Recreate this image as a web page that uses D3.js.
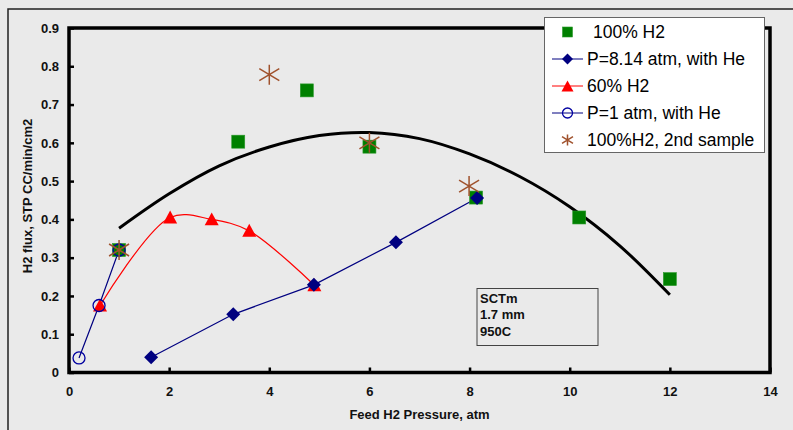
<!DOCTYPE html>
<html><head><meta charset="utf-8">
<script src="https://cdn.jsdelivr.net/npm/d3@7"></script>
<style>body{margin:0;background:#EAEAEA;}svg{display:block;font-family:"Liberation Sans",Arial,sans-serif;}</style>
</head><body><svg id="c" width="793" height="430"></svg>
<script>
// ---- data ----
const xTicks = [0, 2, 4, 6, 8, 10, 12, 14];
const yTicks = [0, 0.1, 0.2, 0.3, 0.4, 0.5, 0.6, 0.7, 0.8, 0.9];
const h2_100_x = [1.0, 3.38, 4.75, 6.0, 8.13, 10.19, 12.0];
const h2_100_y = [0.32, 0.603, 0.737, 0.59, 0.457, 0.405, 0.244];
const he814_x = [1.64, 3.28, 4.89, 6.53, 8.15];
const he814_y = [0.04, 0.152, 0.229, 0.34, 0.456];
const h2_60_x = [0.62, 2.02, 2.85, 3.6, 4.9];
const h2_60_y = [0.175, 0.405, 0.40, 0.37, 0.228];
const he1_x = [0.2, 0.6, 1.0];
const he1_y = [0.038, 0.175, 0.32];
const h2b_x = [1.0, 4.0, 6.0, 7.99];
const h2b_y = [0.32, 0.778, 0.60, 0.487];
const fit_x = [1, 2, 3, 4, 5, 6, 7, 8, 9, 10, 11, 12];
const fit_y = [0.377, 0.467, 0.54, 0.589, 0.619, 0.627, 0.611, 0.571, 0.512, 0.433, 0.331, 0.203];
const legendLabels = ["100% H2", "P=8.14 atm, with He", "60% H2", "P=1 atm, with He", "100%H2, 2nd sample"];
const noteLines = ["SCTm", "1.7 mm", "950C"];

// ---- drawing ----
const svg = d3.select("#c");
const L = 69, R = 770, T = 28, B = 372.5;
const x = d3.scaleLinear().domain([0, 14]).range([L, R]);
const y = d3.scaleLinear().domain([0, 0.9]).range([B, T]);
const zip = (a, b) => a.map((v, i) => [v, b[i]]);

// outer frame
svg.append("rect").attr("x", 8).attr("y", 9).attr("width", 800).attr("height", 440)
  .attr("fill", "#EAEAEA").attr("stroke", "#222").attr("stroke-width", 1.5);

// plot frame
svg.append("rect").attr("x", L).attr("y", T).attr("width", R - L).attr("height", B - T)
  .attr("fill", "#EAEAEA").attr("stroke", "#000").attr("stroke-width", 3.5);

// axes
const gx = svg.append("g").attr("transform", `translate(0,${B})`)
  .call(d3.axisBottom(x).tickValues(xTicks).tickSize(-5).tickPadding(14).tickFormat(d3.format("d")));
const gy = svg.append("g").attr("transform", `translate(${L},0)`)
  .call(d3.axisLeft(y).tickValues(yTicks).tickSize(-5).tickPadding(10).tickFormat(d => d === 0 ? "0" : d3.format(".1f")(d)));
[gx, gy].forEach(g => {
  g.select(".domain").remove();
  g.selectAll(".tick line").attr("stroke", "#000").attr("stroke-width", 2.5);
  g.selectAll(".tick text").attr("font-size", 13).attr("font-weight", "bold").attr("fill", "#111")
    .attr("font-family", "'Liberation Sans', Arial, sans-serif");
});
gx.selectAll(".tick text").attr("dy", "0.71em");

// axis titles
svg.append("text").attr("x", (L + R) / 2).attr("y", 419).attr("text-anchor", "middle")
  .attr("font-size", 13).attr("font-weight", "bold").attr("fill", "#111").text("Feed H2 Pressure, atm");
svg.append("text").attr("transform", "translate(32,196) rotate(-90)").attr("text-anchor", "middle")
  .attr("font-size", 13).attr("font-weight", "bold").attr("fill", "#111").text("H2 flux, STP CC/min/cm2");

// fit curve
const line = d3.line().x(d => x(d[0])).y(d => y(d[1]));
svg.append("path").datum(zip(fit_x, fit_y)).attr("d", line.curve(d3.curveCatmullRom))
  .attr("fill", "none").attr("stroke", "#000").attr("stroke-width", 3);

// series lines
svg.append("path").datum(zip(he1_x, he1_y)).attr("d", d3.line().x(d => x(d[0])).y(d => y(d[1])))
  .attr("fill", "none").attr("stroke", "#000080").attr("stroke-width", 1.2);
svg.append("path").datum(zip(h2_60_x, h2_60_y)).attr("d", d3.line().x(d => x(d[0])).y(d => y(d[1])).curve(d3.curveCatmullRom))
  .attr("fill", "none").attr("stroke", "#FF0000").attr("stroke-width", 1.2);
svg.append("path").datum(zip(he814_x, he814_y)).attr("d", d3.line().x(d => x(d[0])).y(d => y(d[1])))
  .attr("fill", "none").attr("stroke", "#000080").attr("stroke-width", 1.2);

// marker helpers
function square(g, cx, cy, s) {
  g.append("rect").attr("x", cx - s / 2).attr("y", cy - s / 2).attr("width", s).attr("height", s)
    .attr("fill", "#008000").attr("stroke", "#2a9a2a").attr("stroke-width", 0.6);
}
function diamond(g, cx, cy, s) {
  const h = s / 2;
  g.append("path").attr("d", `M${cx},${cy - h}L${cx + h},${cy}L${cx},${cy + h}L${cx - h},${cy}Z`).attr("fill", "#000080");
}
function triangle(g, cx, cy, s) {
  const h = s / 2;
  g.append("path").attr("d", `M${cx},${cy - h}L${cx + h},${cy + h * 0.85}L${cx - h},${cy + h * 0.85}Z`).attr("fill", "#FF0000");
}
function circle(g, cx, cy, r) {
  g.append("circle").attr("cx", cx).attr("cy", cy).attr("r", r).attr("fill", "none")
    .attr("stroke", "#0000A0").attr("stroke-width", 1.3);
}
function star(g, cx, cy, s) {
  const h = s / 2;
  g.append("path").attr("d", `M${cx},${cy - h}V${cy + h}M${cx - h},${cy - h * 0.6}L${cx + h},${cy + h * 0.6}M${cx - h},${cy + h * 0.6}L${cx + h},${cy - h * 0.6}`)
    .attr("stroke", "#A0522D").attr("stroke-width", 1.5).attr("fill", "none");
}

const m = svg.append("g");
zip(h2_100_x, h2_100_y).forEach(d => square(m, x(d[0]), y(d[1]), 13));
zip(h2_60_x, h2_60_y).forEach(d => triangle(m, x(d[0]), y(d[1]), 14));
zip(he1_x, he1_y).forEach(d => circle(m, x(d[0]), y(d[1]), 6));
zip(he814_x, he814_y).forEach(d => diamond(m, x(d[0]), y(d[1]), 14));
zip(h2b_x, h2b_y).forEach(d => star(m, x(d[0]), y(d[1]), 20));

// note box
svg.append("rect").attr("x", 477).attr("y", 288.5).attr("width", 121).attr("height", 57)
  .attr("fill", "none").attr("stroke", "#444").attr("stroke-width", 1);
svg.append("g").selectAll("text").data(noteLines).join("text")
  .attr("x", 480).attr("y", (d, i) => 302.5 + i * 16.5).attr("font-size", 13).attr("font-weight", "bold")
  .attr("fill", "#111").text(d => d);

// legend
const lg = svg.append("g");
lg.append("rect").attr("x", 544.5).attr("y", 17.5).attr("width", 220).attr("height", 135)
  .attr("fill", "#fff").attr("stroke", "#666").attr("stroke-width", 1);
const ly = [32, 59, 86, 113, 140];
const lx0 = 552, lx1 = 583, lxm = 567.5;
// 100% H2
square(lg, lxm, ly[0], 10);
// P=8.14
lg.append("line").attr("x1", lx0).attr("x2", lx1).attr("y1", ly[1]).attr("y2", ly[1]).attr("stroke", "#000080").attr("stroke-width", 1);
diamond(lg, lxm, ly[1], 11);
// 60%
lg.append("line").attr("x1", lx0).attr("x2", lx1).attr("y1", ly[2]).attr("y2", ly[2]).attr("stroke", "#FF0000").attr("stroke-width", 1);
triangle(lg, lxm, ly[2] + 0.5, 12);
// P=1
lg.append("line").attr("x1", lx0).attr("x2", lx1).attr("y1", ly[3]).attr("y2", ly[3]).attr("stroke", "#000080").attr("stroke-width", 1);
circle(lg, lxm, ly[3], 5);
// 2nd sample
star(lg, lxm, ly[4], 11);
lg.selectAll("text.l").data(legendLabels).join("text").attr("class", "l")
  .attr("x", (d, i) => i === 0 ? 593 : 587).attr("y", (d, i) => ly[i] + 6)
  .attr("font-size", 17.5).attr("fill", "#000").text(d => d);
</script></body></html>
